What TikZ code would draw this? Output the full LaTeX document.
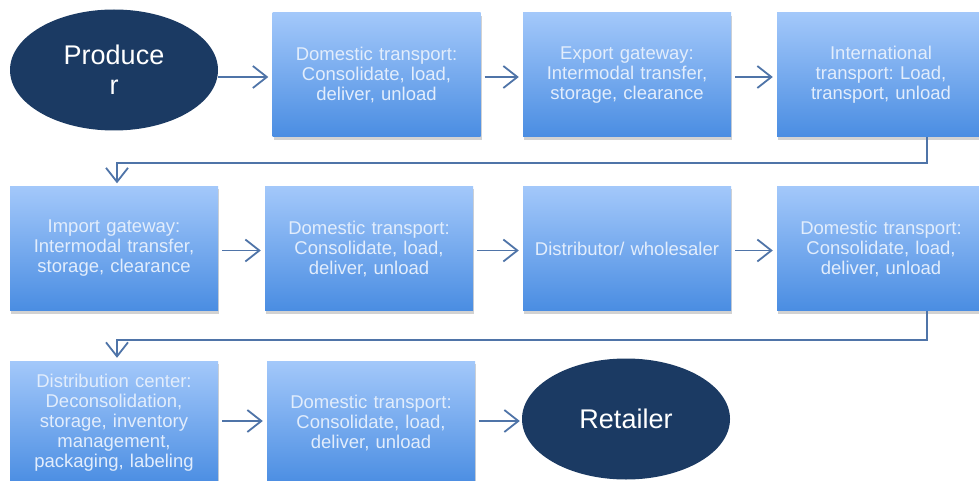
\documentclass[tikz,border=0pt]{standalone}
\usepackage{fontspec}
\setmainfont{Liberation Sans}
\frenchspacing
\usetikzlibrary{arrows.meta,shapes.geometric,shadows,calc}
\definecolor{boxtop}{HTML}{A3C8FA}
\definecolor{boxbot}{HTML}{4A8DE2}
\definecolor{boxtxt}{HTML}{E2EDFC}
\definecolor{navy}{HTML}{1B3A63}
\definecolor{arrcol}{HTML}{4F74A8}
\tikzset{
  stepbox/.style={rectangle, minimum width=208pt, minimum height=124pt, inner sep=0pt,
    top color=boxtop, bottom color=boxbot, draw=none,
    drop shadow={shadow xshift=1pt, shadow yshift=-3pt, opacity=0.35},
    text width=204pt, align=center, text=boxtxt,
    font=\fontsize{18.5pt}{20pt}\selectfont},
  endnode/.style={ellipse, minimum width=208pt, minimum height=121pt, inner sep=0pt,
    fill=navy, draw=none, text=white, align=center,
    font=\fontsize{27pt}{30pt}\selectfont},
  arr/.style={draw=arrcol, line width=1.8pt,
    -{Straight Barb[length=14pt,width=22pt,line width=1.8pt]}},
}
\begin{document}
\begin{tikzpicture}[x=1pt,y=-1pt]
\clip (0,0) rectangle (979,481);
\fill[white] (0,0) rectangle (979,481);
% row 1
\node[endnode] (prod) at (114,70) {Produce\\r};
\node[stepbox] (b1) at (376.5,75) {Domestic transport:\\Consolidate, load,\\deliver, unload};
\node[stepbox] (b2) at (627,75) {Export gateway:\\Intermodal transfer,\\storage, clearance};
\node[stepbox] (b3) at (881,75) {International\\transport: Load,\\transport, unload};
% row 2
\node[stepbox] (r2a) at (114,248.5) {Import gateway:\\Intermodal transfer,\\storage, clearance};
\node[stepbox] (r2b) at (369,248.5) {Domestic transport:\\Consolidate, load,\\deliver, unload};
\node[stepbox] (r2c) at (627,248.5) {Distributor/ wholesaler};
\node[stepbox] (r2d) at (881,248.5) {Domestic transport:\\Consolidate, load,\\deliver, unload};
% row 3
\node[stepbox] (r3a) at (114,423) {Distribution center:\\Deconsolidation,\\storage, inventory\\management,\\packaging, labeling};
\node[stepbox] (r3b) at (371,423) {Domestic transport:\\Consolidate, load,\\deliver, unload};
\node[endnode] (ret) at (626,419) {Retailer};
% arrows row 1
\draw[arr, shorten >=4pt] ([yshift=-2pt]prod.east |- b1.west) -- ([yshift=-2pt]b1.west);
\draw[arr, shorten <=4pt, shorten >=4pt] ([yshift=-2pt]b1.east) -- ([yshift=-2pt]b2.west);
\draw[arr, shorten <=4pt, shorten >=4pt] ([yshift=-2pt]b2.east) -- ([yshift=-2pt]b3.west);
% turn 1
\draw[arr, shorten >=3pt] ([xshift=46pt]b3.south) -- ++(0,26) -| ([xshift=3pt]r2a.north);
% arrows row 2
\draw[arr, shorten <=4pt, shorten >=4pt] ([yshift=-2pt]r2a.east) -- ([yshift=-2pt]r2b.west);
\draw[arr, shorten <=4pt, shorten >=4pt] ([yshift=-2pt]r2b.east) -- ([yshift=-2pt]r2c.west);
\draw[arr, shorten <=4pt, shorten >=4pt] ([yshift=-2pt]r2c.east) -- ([yshift=-2pt]r2d.west);
% turn 2
\draw[arr, shorten >=3pt] ([xshift=46pt]r2d.south) -- ++(0,29) -| ([xshift=3pt]r3a.north);
% arrows row 3
\draw[arr, shorten <=4pt, shorten >=4pt] ([yshift=2pt]r3a.east) -- ([yshift=2pt]r3b.west);
\draw[arr, shorten <=4pt, shorten >=2pt] ([yshift=2pt]r3b.east) -- ([yshift=2pt]r3b.east -| ret.west);
\end{tikzpicture}
\end{document}
